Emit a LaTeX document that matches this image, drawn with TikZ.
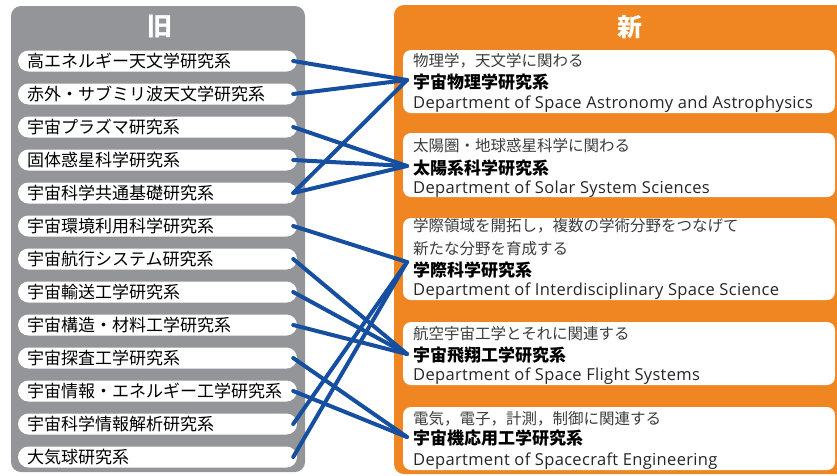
\documentclass[tikz,border=0pt]{standalone}
\usepackage{fontspec}
\newfontfamily\jp{Noto Sans CJK JP}
\newfontfamily\en[LetterSpace=2]{Open Sans}
\definecolor{panelgray}{RGB}{147,149,152}
\definecolor{panelorange}{RGB}{239,134,33}
\definecolor{linkblue}{RGB}{22,78,160}
\definecolor{subgray}{RGB}{60,60,60}
\begin{document}
\begin{tikzpicture}[x=1pt,y=-1pt,
  oldbox/.style={fill=white, rounded corners=10.5pt, minimum width=279pt, minimum height=21pt, inner sep=0pt},
  oldtext/.style={anchor=base west, inner sep=0pt, font=\jp\fontsize{17}{17}\selectfont},
  newbox/.style={fill=white, rounded corners=8pt, inner sep=0pt, minimum width=432pt},
  subtext/.style={anchor=base west, inner sep=0pt, text=subgray, font=\jp\fontsize{15.5}{16}\selectfont},
  nametext/.style={anchor=base west, inner sep=0pt, font=\jp\bfseries\fontsize{17}{17}\selectfont},
  entext/.style={anchor=base west, inner sep=0pt, text=black!85, font=\en\fontsize{16.5}{17}\selectfont},
  link/.style={draw=linkblue, line width=4pt, line cap=round},
  titletext/.style={text=white, font=\jp\bfseries\fontsize{25}{25}\selectfont, inner sep=0pt}
]
\useasboundingbox (0,0) rectangle (837,475);
\clip (0,0) rectangle (837,475);
% panels
\fill[panelgray, rounded corners=10pt] (11,6) rectangle (305,472);
\fill[panelorange, rounded corners=10pt] (394,5) rectangle (860,474);
\node[titletext] (old) at (160,26) {旧};
\node[titletext] (new) at (630,27) {新};
% old departments
\foreach \i/\t in {1/高エネルギー天文学研究系, 2/赤外・サブミリ波天文学研究系, 3/宇宙プラズマ研究系, 4/固体惑星科学研究系, 5/宇宙科学共通基礎研究系, 6/宇宙環境利用科学研究系, 7/宇宙航行システム研究系, 8/宇宙輸送工学研究系, 9/宇宙構造・材料工学研究系, 10/宇宙探査工学研究系, 11/宇宙情報・エネルギー工学研究系, 12/宇宙科学情報解析研究系, 13/大気球研究系}{
  \pgfmathsetmacro\yc{61+33*(\i-1)}
  \node[oldbox] (o\i) at (157.5,\yc) {};
  \node[oldtext] (t\i) at (27,\yc+6.5) {\t};
}
% new departments
\node[newbox, minimum height=63pt] (n1) at (619,81.5) {};
\node[subtext] (n1a) at (413,66) {物理学，天文学に関わる};
\node[nametext] (n1b) at (413,88.5) {宇宙物理学研究系};
\node[entext] (n1c) at (413,108) {Department of Space Astronomy and Astrophysics};

\node[newbox, minimum height=64pt] (n2) at (619,165) {};
\node[subtext] (n2a) at (413,151) {太陽圏・地球惑星科学に関わる};
\node[nametext] (n2b) at (413,174.5) {太陽系科学研究系};
\node[entext] (n2c) at (413,193) {Department of Solar System Sciences};

\node[newbox, minimum height=82pt] (n3) at (619,259) {};
\node[subtext] (n3a) at (413,231) {学際領域を開拓し，複数の学術分野をつなげて};
\node[subtext] (n3b) at (413,254) {新たな分野を育成する};
\node[nametext] (n3c) at (413,276.5) {学際科学研究系};
\node[entext] (n3d) at (413,295) {Department of Interdisciplinary Space Science};

\node[newbox, minimum height=63pt] (n4) at (619,353.5) {};
\node[subtext] (n4a) at (413,339) {航空宇宙工学とそれに関連する};
\node[nametext] (n4b) at (413,361.5) {宇宙飛翔工学研究系};
\node[entext] (n4c) at (413,380) {Department of Space Flight Systems};

\node[newbox, minimum height=63pt] (n5) at (619,438.5) {};
\node[subtext] (n5a) at (413,424) {電気，電子，計測，制御に関連する};
\node[nametext] (n5b) at (413,444.5) {宇宙機応用工学研究系};
\node[entext] (n5c) at (413,465) {Department of Spacecraft Engineering};

% connector ends
\coordinate (e1) at (407,80);
\coordinate (e2) at (407,166);
\coordinate (e3) at (407,262);
\coordinate (e4) at (407,354);
\coordinate (e5) at (407,437);
\foreach \s/\d in {1/e1, 2/e1, 3/e2, 4/e2, 5/e1, 5/e2, 6/e3, 7/e4, 8/e4, 9/e4, 10/e5, 11/e5, 12/e3, 13/e3}{
  \draw[link] ([xshift=-4pt]o\s.east) -- (\d);
}
\end{tikzpicture}
\end{document}
